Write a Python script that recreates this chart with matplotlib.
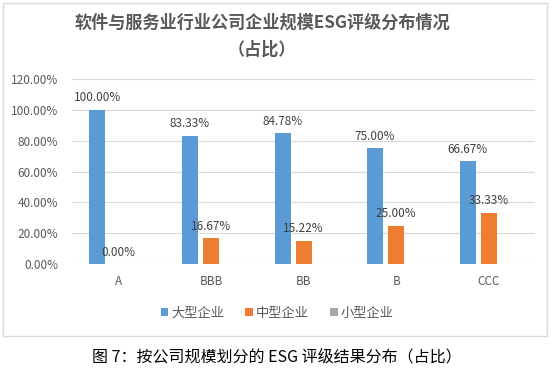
import matplotlib.pyplot as plt
from matplotlib.patches import Rectangle
import numpy as np

plt.rcParams['font.family'] = ['Noto Sans CJK SC', 'DejaVu Sans']

categories = ['A', 'BBB', 'BB', 'B', 'CCC']
large = [1.0, 0.8333, 0.8478, 0.75, 0.6667]
medium = [0.0, 0.1667, 0.1522, 0.25, 0.3333]
small = [np.nan, np.nan, np.nan, np.nan, np.nan]
series_names = ['大型企业', '中型企业', '小型企业']
colors = ['#5B9BD5', '#ED7D31', '#A5A5A5']

fig = plt.figure(figsize=(5.54, 3.73), dpi=100)
ax = fig.add_axes([0.130, 0.292, 0.836, 0.496])

# chart border
fig.patches.append(Rectangle((3 / 554, 1 - 336 / 373), 544 / 554, 333 / 373,
                             transform=fig.transFigure, fill=False,
                             edgecolor='#D9D9D9', linewidth=1))

x = np.arange(len(categories))
w = 0.173
step = 0.227
for i, (vals, name, c) in enumerate(zip([large, medium, small], series_names, colors)):
    xs = x + (i - 1) * step
    ax.bar(xs, vals, width=w, color=c, label=name, zorder=3)
    for xi, v in zip(xs, vals):
        if np.isnan(v):
            continue
        ax.annotate('%.2f%%' % (v * 100), (xi, v), xytext=(0, 4),
                    textcoords='offset points', ha='center', va='bottom',
                    fontsize=8.5, color='#404040')

ax.set_ylim(0, 1.2)
ax.set_xlim(-0.5, len(categories) - 0.5)
ax.set_yticks(np.arange(0, 1.21, 0.2))
ax.set_yticklabels(['%.2f%%' % (t * 100) for t in np.arange(0, 1.21, 0.2)])
ax.set_xticks(x)
ax.set_xticklabels(categories)
ax.tick_params(length=0, labelsize=8.5, labelcolor='#595959', pad=8)
ax.tick_params(axis='y', pad=10)
ax.grid(axis='y', color='#D9D9D9', linewidth=0.8, zorder=0)
for s in ax.spines.values():
    s.set_visible(False)

fig.text(0.473, 0.94, '软件与服务业行业公司企业规模ESG评级分布情况', ha='center', va='center',
         fontsize=12.3, fontweight='bold', color='#595959')
fig.text(0.473, 0.866, '（占比）', ha='center', va='center',
         fontsize=12.3, fontweight='bold', color='#595959')

ax.legend(loc='center', bbox_to_anchor=(0.5, 1 - 313 / 373), bbox_transform=fig.transFigure,
          ncol=3, frameon=False, fontsize=9.5, labelcolor='#595959',
          handlelength=0.6, handleheight=0.6, handletextpad=0.2, columnspacing=1.6)

fig.text(0.5, 1 - 357 / 373, '图 7：按公司规模划分的 ESG 评级结果分布（占比）',
         ha='center', va='center', fontsize=11.5, color='#000000')

fig.savefig('out.png', dpi=100)
